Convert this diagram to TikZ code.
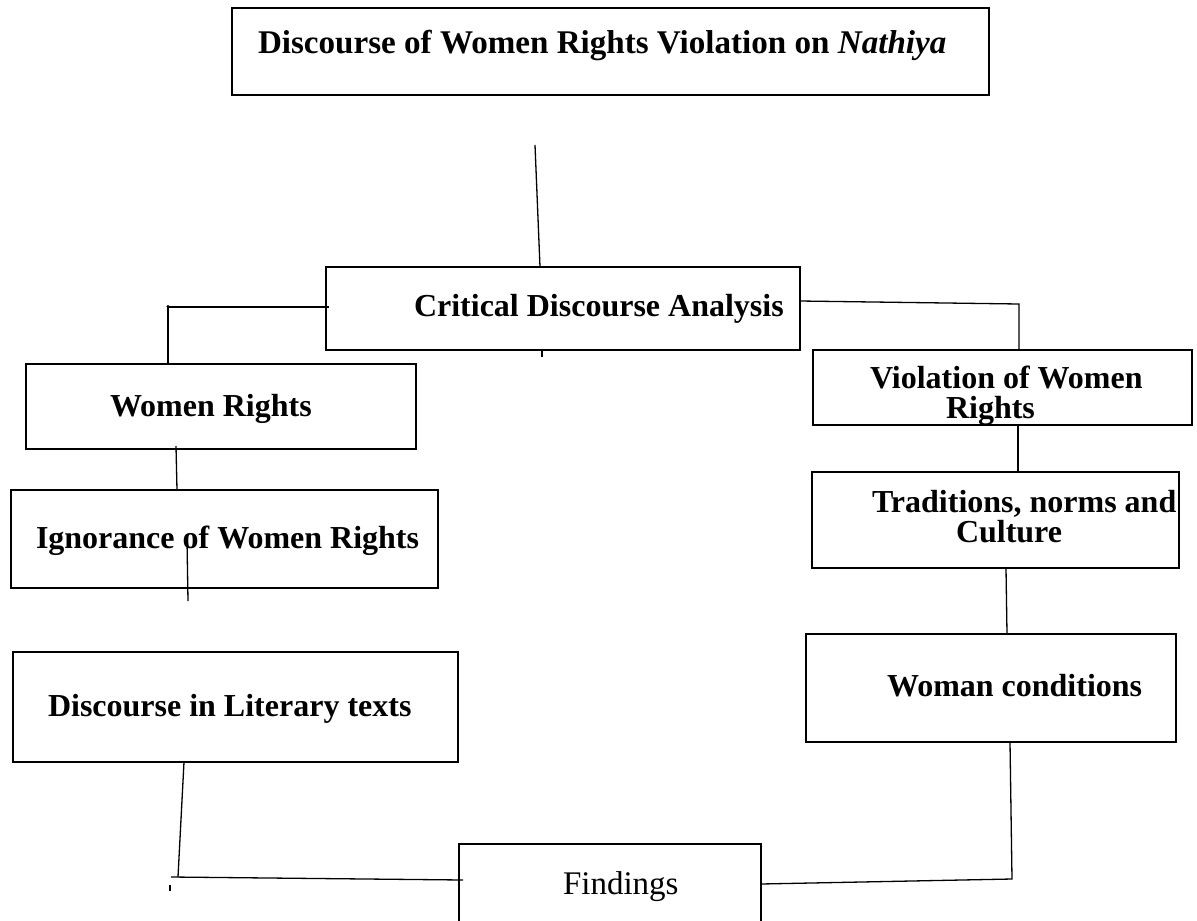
\documentclass[tikz,border=0pt]{standalone}
\usepackage{fontspec}
\setmainfont{Liberation Serif}
\usetikzlibrary{calc}
\tikzset{
  boxnode/.style={draw, line width=2.6pt, inner sep=0pt, outer sep=0pt},
  lbl/.style={anchor=base west, inner sep=0pt, outer sep=0pt, font=\fontsize{32}{29}\selectfont\bfseries},
  lbltwo/.style={anchor=base west, inner sep=0pt, outer sep=0pt, align=left, font=\fontsize{32}{29.5}\selectfont\bfseries},
  conn/.style={line width=1.3pt}
}
\begin{document}
\begin{tikzpicture}[x=1pt,y=-1pt]
\useasboundingbox (0,0) rectangle (1197,921);
\clip (0,0) rectangle (1197,921);
\fill[white] (0,0) rectangle (1197,921);

% boxes
\node[boxnode, minimum width=757pt, minimum height=87pt] (title) at (610.5,51.5) {};
\node[boxnode, minimum width=474pt, minimum height=83pt] (cda) at (563,308.5) {};
\node[boxnode, minimum width=390pt, minimum height=85pt] (wr) at (221,406.5) {};
\node[boxnode, minimum width=427pt, minimum height=98pt] (ign) at (224.5,539) {};
\node[boxnode, minimum width=445pt, minimum height=110pt] (dlt) at (235.5,707) {};
\node[boxnode, minimum width=302pt, minimum height=92pt] (fin) at (610,890) {};
\node[boxnode, minimum width=379pt, minimum height=75pt] (vio) at (1002.5,387.5) {};
\node[boxnode, minimum width=367pt, minimum height=96pt] (trad) at (995.5,520) {};
\node[boxnode, minimum width=370pt, minimum height=108pt] (wc) at (991,688) {};

% labels
\node[lbl, font=\fontsize{33.1}{36}\selectfont\bfseries] (ttitle) at (258,53) {Discourse of Women Rights Violation on \textit{Nathiya}};
\node[lbl] (tcda) at (414,316) {Critical Discourse Analysis};
\node[lbl] (twr) at (110,416) {Women Rights};
\node[lbl] (tign) at (36,548) {Ignorance of Women Rights};
\node[lbl] (tdlt) at (48,716) {Discourse in Literary texts};
\node[lbl, font=\fontsize{33}{36}\selectfont] (tfin) at (563,894) {Findings};
\node[lbltwo] (tvio) at (870,418) {Violation of Women\\\hspace*{76pt}Rights};
\node[lbltwo] (ttrad) at (872,542) {Traditions, norms and\\\hspace*{84pt}Culture};
\node[lbl] (twc) at (887,696) {Woman conditions};

% free ends
\coordinate (c1) at (535,145);
\coordinate (c2) at (542,357);
\coordinate (c3) at (188,601);
\coordinate (c4) at (178,877);
\coordinate (c5) at (171,877);
\coordinate (c6) at (1012,879);
\coordinate (c7) at (1019,304);
\coordinate (c8) at (170,885);
\coordinate (c9) at (170,891);

% connectors
\draw[conn] (c1) -- ($(cda.north west)+(214,0)$);
\draw[conn] ($(cda.south west)+(216,0)$) -- (c2);
\draw[conn] ($(cda.west)+(3,-1.5)$) -| ($(wr.north west)+(142,0)$);
\fill ($(wr.north west)+(142,-57.5)$) circle (1.6pt);
\draw[conn] ($(wr.south west)+(150,-3)$) -- ($(ign.north west)+(166,0)$);
\draw[conn] ($(ign.south west)+(176,-48)$) -- (c3);
\draw[conn] ($(dlt.south west)+(171,0)$) -- (c4);
\draw[conn] (c5) -- ($(fin.north west)+(4,36)$);
\draw[conn] (c8) -- (c9);
\draw[conn] ($(fin.north east)+(0,40)$) -- (c6) -- ($(wc.south west)+(204,0)$);
\draw[conn] ($(cda.east)+(0,-7.5)$) -- (c7) -- ($(vio.north west)+(206,0)$);
\draw[conn] ($(vio.south west)+(205,0)$) -- ($(trad.north west)+(206,0)$);
\draw[conn] ($(trad.south west)+(194,0)$) -- ($(wc.north west)+(201,0)$);
\end{tikzpicture}
\end{document}
